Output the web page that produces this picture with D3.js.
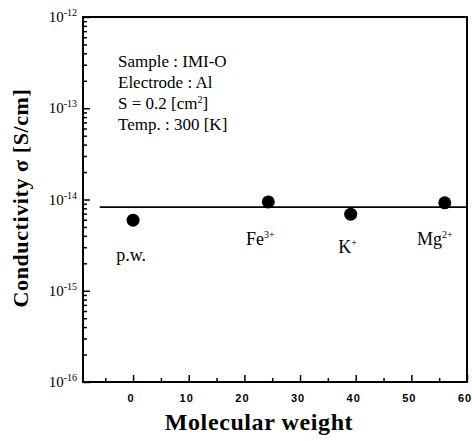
<!DOCTYPE html>
<html>
<head>
<meta charset="utf-8">
<script src="https://cdn.jsdelivr.net/npm/d3@7"></script>
<style>
  html, body { margin: 0; padding: 0; background: #fff; }
  svg { display: block; }
  .serif { font-family: "Liberation Serif", "Times New Roman", Times, serif; }
  .sans { font-family: "Liberation Sans", Arial, Helvetica, sans-serif; }
</style>
</head>
<body>
<svg id="chart" width="472" height="441"></svg>
<script>
// Conductivity of IMI-O samples doped with different ions
const ions = ["p.w.", "Fe", "K", "Mg"];
const charges = ["", "3+", "+", "2+"];
const molecularWeight = [0, 24.3, 39.1, 56.0];
const conductivity = [5.93e-15, 9.4e-15, 6.9e-15, 9.2e-15];

// Reference level drawn across the plot
const levelValue = 8.25e-15;
const levelRange = [-6, 60];

const yTickExponents = [-12, -13, -14, -15, -16];
const xTickValues = [0, 10, 20, 30, 40, 50, 60];
const infoLines = ["Sample : IMI-O", "Electrode : Al", "S = 0.2 [cm|2|]", "Temp. : 300 [K]"];

const svg = d3.select("#chart");
const frame = { left: 83, right: 467, top: 17, bottom: 382 };

const x = d3.scaleLinear().domain([-9, 60]).range([frame.left, frame.right]);
const y = d3.scaleLog().domain([1e-16, 1e-12]).range([frame.bottom, frame.top]);

// Y axis: inward ticks, major per decade and minor 2..9
const yMinor = [];
for (let e = -16; e < -12; e++) {
  for (let m = 2; m <= 9; m++) yMinor.push(m * Math.pow(10, e));
}
const yAxis = d3.axisRight(y).tickValues(yMinor).tickSize(4).tickFormat("");
const yMajor = d3.axisRight(y).tickValues(yTickExponents.map(e => Math.pow(10, e))).tickSize(7).tickFormat("");
[yAxis, yMajor].forEach(a => {
  const g = svg.append("g").attr("transform", `translate(${frame.left},0)`).call(a);
  g.select(".domain").remove();
  g.selectAll("line").attr("stroke", "#000").attr("stroke-width", 1.5);
});

// X axis: inward ticks every 5
const xMinor = d3.range(-5, 60, 5).filter(v => v % 10 !== 0);
const xAxisMinor = d3.axisTop(x).tickValues(xMinor).tickSize(4).tickFormat("");
const xAxisMajor = d3.axisTop(x).tickValues(xTickValues).tickSize(7).tickFormat("");
[xAxisMinor, xAxisMajor].forEach(a => {
  const g = svg.append("g").attr("transform", `translate(0,${frame.bottom})`).call(a);
  g.select(".domain").remove();
  g.selectAll("line").attr("stroke", "#000").attr("stroke-width", 1.5);
});

// Frame
svg.append("rect")
  .attr("x", frame.left).attr("y", frame.top)
  .attr("width", frame.right - frame.left).attr("height", frame.bottom - frame.top)
  .attr("fill", "none").attr("stroke", "#000").attr("stroke-width", 2);

// Y tick labels 10^n
const yLab = svg.append("g").attr("class", "serif").attr("fill", "#000");
yTickExponents.forEach(e => {
  const t = yLab.append("text")
    .attr("x", 77).attr("y", y(Math.pow(10, e)) + 5)
    .attr("text-anchor", "end").style("font-size", "15px");
  t.append("tspan").text("10");
  t.append("tspan").attr("dy", -6).style("font-size", "10px").text(String(e));
});

// X tick labels
svg.append("g").attr("class", "sans").selectAll("text").data(xTickValues).join("text")
  .attr("x", d => x(d) - 2).attr("y", 402)
  .attr("text-anchor", "middle")
  .style("font-weight", "bold").style("font-size", "11px")
  .attr("letter-spacing", 1)
  .text(d => d);

// Axis titles
svg.append("text")
  .attr("class", "serif")
  .attr("x", 259).attr("y", 430)
  .attr("text-anchor", "middle")
  .style("font-weight", "bold").style("font-size", "24px")
  .attr("letter-spacing", 0.6)
  .text("Molecular weight");

svg.append("text")
  .attr("class", "serif")
  .attr("transform", "translate(28,198) rotate(-90)")
  .attr("text-anchor", "middle")
  .style("font-weight", "bold").style("font-size", "22px")
  .attr("letter-spacing", 0.6)
  .text("Conductivity σ [S/cm]");

// Info text block
const info = svg.append("g").attr("class", "serif").style("font-size", "17px").attr("fill", "#000");
infoLines.forEach((line, i) => {
  const t = info.append("text").attr("x", 118).attr("y", 66.5 + i * 21);
  const parts = line.split("|");
  parts.forEach((p, j) => {
    if (j % 2 === 1) {
      t.append("tspan").attr("dy", -6).style("font-size", "10px").text(p);
    } else {
      const s = t.append("tspan").text(p);
      if (j > 0) s.attr("dy", 6);
    }
  });
});

// Reference level line
svg.append("line")
  .attr("x1", x(levelRange[0])).attr("x2", x(levelRange[1]))
  .attr("y1", y(levelValue)).attr("y2", y(levelValue))
  .attr("stroke", "#000").attr("stroke-width", 1.8);

// Data points
const pts = ions.map((name, i) => ({ name, charge: charges[i], mw: molecularWeight[i], s: conductivity[i] }));
svg.append("g").selectAll("circle").data(pts).join("circle")
  .attr("cx", d => x(d.mw)).attr("cy", d => y(d.s))
  .attr("r", 6.5).attr("fill", "#000");

// Point labels, placed below each marker
const labelDx = [-2, -8, -3, -10];
const labelDy = [41, 43, 39, 42];
const labels = svg.append("g").attr("class", "serif").style("font-size", "18px").attr("fill", "#000");
pts.forEach((d, i) => {
  const t = labels.append("text")
    .attr("x", x(d.mw) + labelDx[i]).attr("y", y(d.s) + labelDy[i])
    .attr("text-anchor", "middle");
  t.append("tspan").text(d.name);
  if (d.charge) t.append("tspan").attr("dy", -7).style("font-size", "10px").text(d.charge);
});
</script>
</body>
</html>
